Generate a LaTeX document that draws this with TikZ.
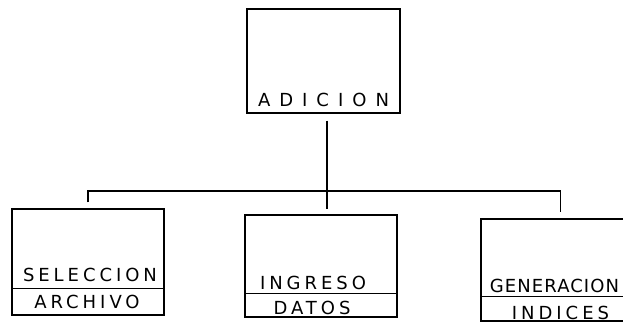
\documentclass[tikz,border=0pt]{standalone}
\usepackage{fontspec}
\newfontfamily\handfont[LetterSpace=22]{DejaVu Sans}
\usetikzlibrary{positioning}

\begin{document}
\begin{tikzpicture}[x=1pt,y=-1pt,line width=1.4pt,node distance=3pt]
    \tikzstyle{module}=[draw,rectangle,inner sep=0pt]
    \tikzstyle{tag}=[inner sep=0pt,font=\handfont\fontsize{18}{18}\selectfont]
    \useasboundingbox (0,0) rectangle (623,323);

    \node [module,minimum width=153pt,minimum height=104pt] (adicion) at (323.5,61) {};
    \node [module,minimum width=152pt,minimum height=106pt] (seleccion) at (88,262) {};
    \node [module,minimum width=152pt,minimum height=102pt] (ingreso) at (321,266) {};
    \node [module,minimum width=159pt,minimum height=102pt] (generacion) at (560.5,270) {};

    % lower compartments
    \draw ([yshift=27pt]seleccion.south west) -- ([yshift=27pt]seleccion.south east);
    \draw ([yshift=24pt]ingreso.south west) -- ([yshift=24pt]ingreso.south east);
    \draw ([yshift=25pt]generacion.south west) -- ([yshift=25pt]generacion.south east);

    \node [tag,above=6pt of adicion.south] (adicionTag) {\addfontfeature{LetterSpace=50}ADICION};
    \node [tag,above=33pt of seleccion.south,xshift=2pt] (seleccionTag) {SELECCION};
    \node [tag,above=6pt of seleccion.south,xshift=-1pt] (archivoTag) {ARCHIVO};
    \node [tag,above=27pt of ingreso.south,xshift=-8pt] (ingresoTag) {INGRESO};
    \node [tag,above=2pt of ingreso.south,xshift=-9pt] (datosTag) {DATOS};
    \node [tag,above=28pt of generacion.south,xshift=-6pt] (generacionTag) {\addfontfeature{LetterSpace=6}GENERACION};
    \node [tag,above=1pt of generacion.south] (indicesTag) {INDICES};

    \coordinate (bar) at (327,191);
    \draw [shorten <=7pt,shorten >=5pt] (adicion.south -| bar) -- (ingreso.north -| bar);
    \draw [shorten <=6pt,shorten >=6pt] (seleccion.north) |- (bar) -| (generacion.north);
\end{tikzpicture}
\end{document}
